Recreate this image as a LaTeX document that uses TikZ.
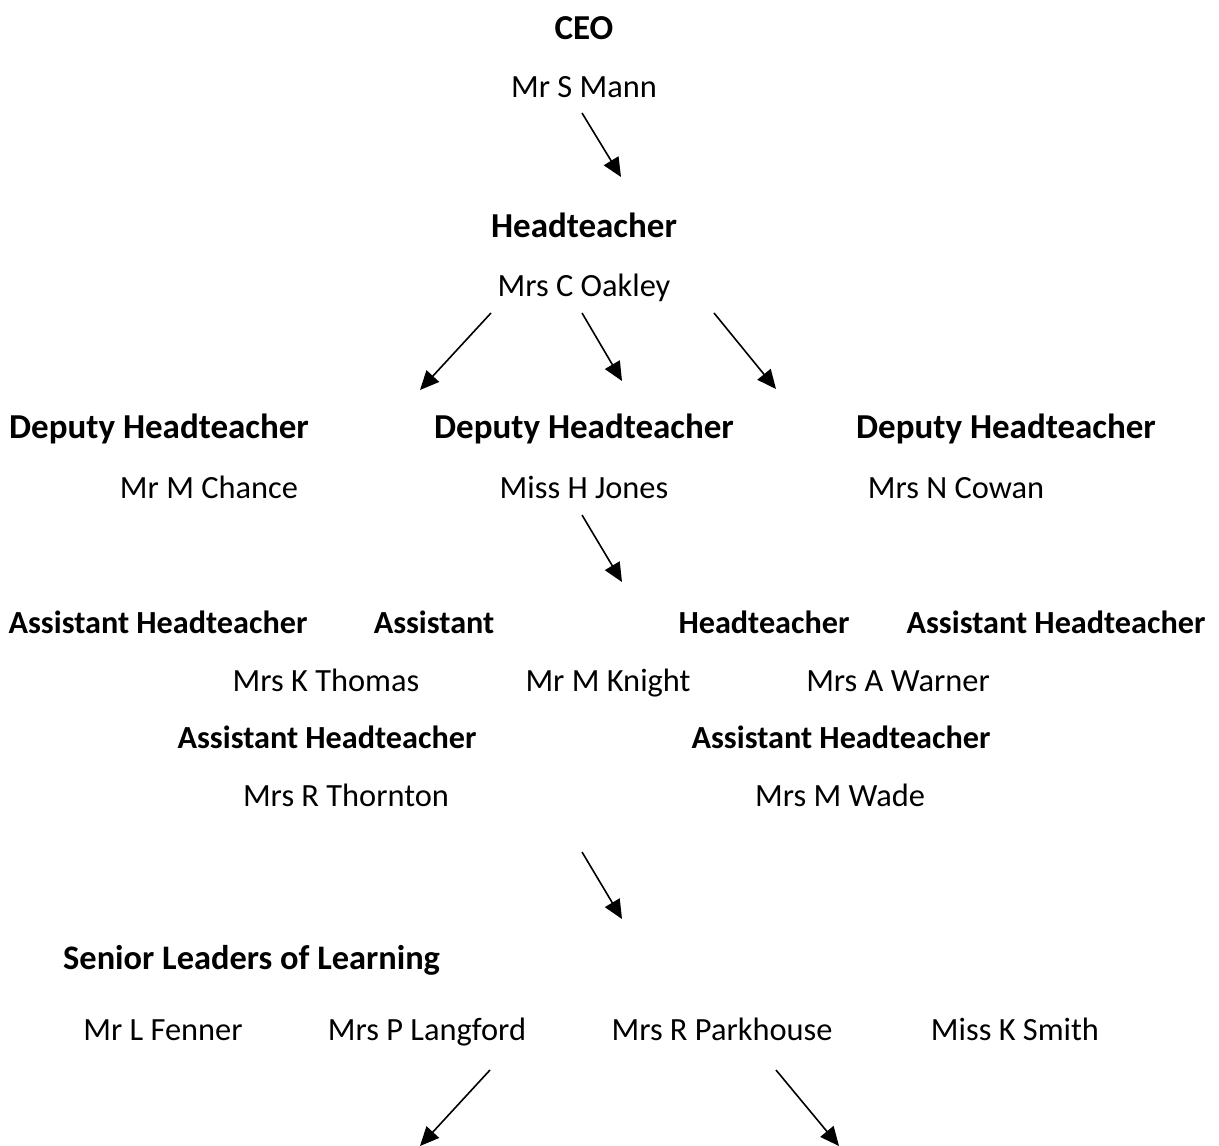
\documentclass[tikz,border=0pt]{standalone}
\usepackage{fontspec}
\setmainfont{Carlito}
\usetikzlibrary{arrows.meta}
\begin{document}
\begin{tikzpicture}[x=1pt,y=-1pt,
  ttlbox/.style={font=\fontsize{35}{40}\selectfont\bfseries, inner sep=0pt, anchor=base},
  smlbox/.style={font=\fontsize{32.2}{36}\selectfont\bfseries, inner sep=0pt, anchor=base},
  nmbox/.style={font=\fontsize{32.4}{40}\selectfont, inner sep=0pt, anchor=base},
  arr/.style={line width=1.6pt, -{Triangle[length=19pt,width=17pt]}}]
\useasboundingbox (0,0) rectangle (1219,1146);
% level 1
\node[ttlbox] (ceo) at (584,39) {CEO};
\node[nmbox] (mann) at (584,97) {Mr S Mann};
\coordinate (a1s) at (582,113); \coordinate (a1e) at (621,177);
\draw[arr] (a1s) -- (a1e);
% level 2
\node[ttlbox] (head) at (584,237) {Headteacher};
\node[nmbox] (oakley) at (584,296) {Mrs C Oakley};
\coordinate (a2s) at (491,313); \coordinate (a2e) at (420,390);
\coordinate (a3s) at (582,313); \coordinate (a3e) at (622,381);
\coordinate (a4s) at (714,313); \coordinate (a4e) at (776,389);
\draw[arr] (a2s) -- (a2e);
\draw[arr] (a3s) -- (a3e);
\draw[arr] (a4s) -- (a4e);
% level 3
\node[ttlbox] (dh1) at (159,438) {Deputy Headteacher};
\node[ttlbox] (dh2) at (584,438) {Deputy Headteacher};
\node[ttlbox] (dh3) at (1006,438) {Deputy Headteacher};
\node[nmbox] (chance) at (209,498) {Mr M Chance};
\node[nmbox] (jones) at (584,498) {Miss H Jones};
\node[nmbox] (cowan) at (956,498) {Mrs N Cowan};
\coordinate (a5s) at (582,515); \coordinate (a5e) at (622,582);
\draw[arr] (a5s) -- (a5e);
% level 4
\node[smlbox] (ah1) at (158,633) {Assistant Headteacher};
\node[smlbox] (ah2a) at (434,633) {Assistant};
\node[smlbox] (ah2b) at (764,633) {Headteacher};
\node[smlbox] (ah3) at (1056,633) {Assistant Headteacher};
\node[nmbox] (thomas) at (326,691) {Mrs K Thomas};
\node[nmbox] (knight) at (608,691) {Mr M Knight};
\node[nmbox] (warner) at (898,691) {Mrs A Warner};
\node[smlbox] (ah4) at (327,748) {Assistant Headteacher};
\node[smlbox] (ah5) at (841,748) {Assistant Headteacher};
\node[nmbox] (thornton) at (346,806) {Mrs R Thornton};
\node[nmbox] (wade) at (840,806) {Mrs M Wade};
\coordinate (a6s) at (582,852); \coordinate (a6e) at (622,919);
\draw[arr] (a6s) -- (a6e);
% level 5
\node[ttlbox, anchor=base west, font=\fontsize{34.4}{40}\selectfont\bfseries] (sll) at (63,969) {Senior Leaders of Learning};
\node[nmbox] (fenner) at (163,1040) {Mr L Fenner};
\node[nmbox] (langford) at (427,1040) {Mrs P Langford};
\node[nmbox] (parkhouse) at (722,1040) {Mrs R Parkhouse};
\node[nmbox] (smith) at (1015,1040) {Miss K Smith};
\coordinate (a7s) at (490,1070); \coordinate (a7e) at (420,1146);
\coordinate (a8s) at (776,1070); \coordinate (a8e) at (839,1146);
\draw[arr] (a7s) -- (a7e);
\draw[arr] (a8s) -- (a8e);
\end{tikzpicture}
\end{document}
